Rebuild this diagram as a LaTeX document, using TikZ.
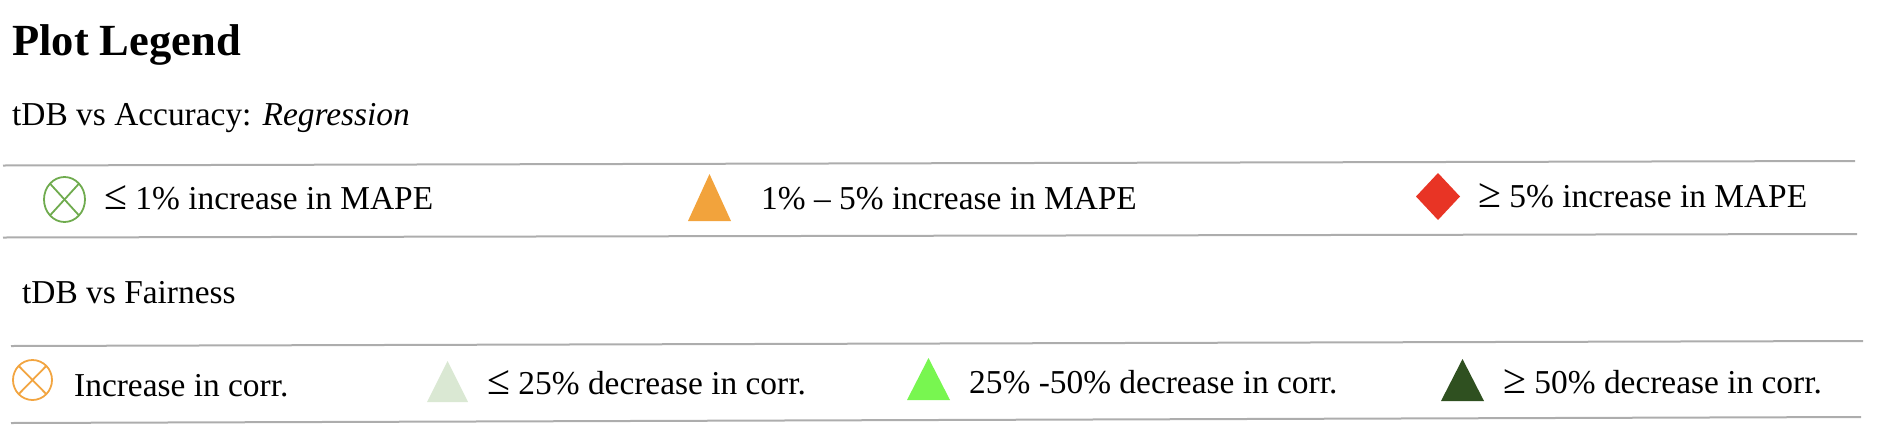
\documentclass[tikz,border=0pt]{standalone}
\usepackage{fontspec}
\setmainfont{Liberation Serif}
\definecolor{ruleGray}{HTML}{ADADAD}
\definecolor{mkGreen}{HTML}{6FAB4E}
\definecolor{mkOrange}{HTML}{F2A541}
\definecolor{triOrange}{HTML}{F2A33C}
\definecolor{dmRed}{HTML}{E83425}
\definecolor{triLight}{HTML}{DAE8D3}
\definecolor{triBright}{HTML}{78F650}
\definecolor{triDark}{HTML}{2F5020}
\newcommand{\lesym}{\scalebox{1.25}{≤}}
\newcommand{\gesym}{\scalebox{1.25}{≥}}
\begin{document}
\begin{tikzpicture}[x=1pt,y=-1pt,
  txt/.style={anchor=base west,inner sep=0pt,font=\fontsize{33.4}{40}\selectfont},
  ttl/.style={anchor=base west,inner sep=0pt,font=\fontsize{44.5}{52}\selectfont\bfseries},
  rulel/.style={draw=ruleGray,line width=2pt},
  xmark/.style={line width=1.8pt}]
\useasboundingbox (0,0) rectangle (1888,432);

% headings
\node[ttl] (title) at (12,55) {Plot Legend};
\node[txt] (sub1) at (12,125) {tDB vs Accuracy: \textit{Regression}};
\node[txt] (sub2) at (22,303) {tDB vs Fairness};

% rules
\draw[rulel] (3,165.5) -- (1855,161);
\draw[rulel] (3,237.5) -- (1857,234);
\draw[rulel] (11,346) -- (1863,341);
\draw[rulel] (11,423) -- (1861,417);

% row 1 markers
\draw[xmark,draw=mkGreen] (64.5,199.5) ellipse [x radius=20.5, y radius=22.5];
\draw[xmark,draw=mkGreen] (64.5,199.5) ++(-14.5,-15.9) -- ++(29,31.8);
\draw[xmark,draw=mkGreen] (64.5,199.5) ++(14.5,-15.9) -- ++(-29,31.8);
\fill[triOrange] (688,221) -- (709.5,174) -- (731,221) -- cycle;
\fill[dmRed] (1416,196.5) -- (1438,173) -- (1460,196.5) -- (1438,220) -- cycle;

% row 1 labels
\node[txt] (a1) at (104,209) {\lesym{} 1\% increase in MAPE};
\node[txt] (a2) at (761,209) {1\% – 5\% increase in MAPE};
\node[txt] (a3) at (1478,207) {\gesym{} 5\% increase in MAPE};

% row 2 markers
\draw[xmark,draw=mkOrange] (32.5,380) ellipse [x radius=19.5, y radius=20];
\draw[xmark,draw=mkOrange] (32.5,380) ++(-13.8,-14.1) -- ++(27.6,28.2);
\draw[xmark,draw=mkOrange] (32.5,380) ++(13.8,-14.1) -- ++(-27.6,28.2);
\fill[triLight] (427,402) -- (447.5,361) -- (468,402) -- cycle;
\fill[triBright] (907,400) -- (928.5,358) -- (950,400) -- cycle;
\fill[triDark] (1441,401) -- (1462.5,359) -- (1484,401) -- cycle;

% row 2 labels
\node[txt] (b1) at (74,396) {Increase in corr.};
\node[txt] (b2) at (487,394) {\lesym{} 25\% decrease in corr.};
\node[txt] (b3) at (969,393) {25\% -50\% decrease in corr.};
\node[txt] (b4) at (1503,393) {\gesym{} 50\% decrease in corr.};
\end{tikzpicture}
\end{document}
